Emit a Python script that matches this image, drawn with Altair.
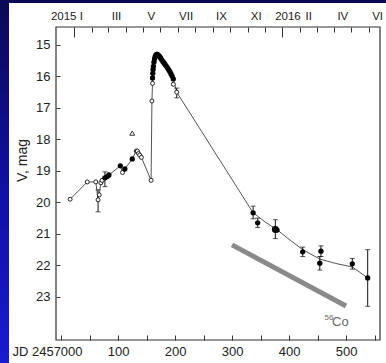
import altair as alt
import pandas as pd

# ---------------- data (x = JD - 2457000, y = V magnitude) ----------------
open_x = [16, 46, 61, 65, 67, 70, 72, 108, 132, 134, 136, 138, 141, 158, 159.5, 160.5, 197, 203]
open_y = [19.9, 19.35, 19.35, 19.92, 19.76, 19.38, 19.3, 19.05, 18.37, 18.37, 18.45, 18.5, 18.57,
          19.3, 16.78, 16.22, 16.25, 16.5]

filled_x = [77, 81, 84, 104, 112, 125,
            160.5, 161, 161.5, 162, 163, 164, 165, 166, 167.5, 169, 170.5, 172, 173.5, 175,
            177, 179, 181, 183, 185, 187, 189, 191, 193, 195, 197,
            337, 345, 379, 424, 454, 456, 511, 538]
filled_y = [19.22, 19.18, 19.13, 18.84, 18.94, 18.62,
            16.05, 15.9, 15.78, 15.68, 15.55, 15.45, 15.38, 15.33, 15.3, 15.3, 15.32, 15.35, 15.38, 15.42,
            15.48, 15.53, 15.58, 15.63, 15.68, 15.73, 15.79, 15.85, 15.92, 15.99, 16.08,
            20.33, 20.65, 20.88, 21.57, 21.93, 21.55, 21.95, 22.4]

big_x = [376]
big_y = [20.86]

tri_x = [125]
tri_y = [17.8]

err_x = [65, 77, 203, 337, 345, 376, 424, 454, 456, 511, 538]
err_lo = [19.6, 19.03, 16.37, 20.12, 20.5, 20.55, 21.42, 21.72, 21.38, 21.78, 21.5]
err_hi = [20.3, 19.5, 16.68, 20.52, 20.8, 21.15, 21.72, 22.15, 21.72, 22.12, 23.3]

line_x = [16, 46, 61, 65, 67, 70, 72, 77, 81, 84, 104, 108, 112, 125, 132, 136, 141, 158, 159.5,
          160.5, 163, 166, 168, 170, 175, 180, 185, 190, 197, 203, 337, 358, 379, 402, 424, 454,
          482, 511, 538]
line_y = [19.9, 19.35, 19.35, 19.92, 19.76, 19.38, 19.3, 19.22, 19.18, 19.13, 18.84, 19.05, 18.94,
          18.62, 18.37, 18.45, 18.57, 19.3, 16.78, 16.22, 15.55, 15.33, 15.3, 15.3, 15.45, 15.58,
          15.72, 15.83, 16.08, 16.5, 20.33, 20.62, 20.87, 21.2, 21.5, 21.8, 21.94, 22.05, 22.4]

co_x = [300, 500]
co_y = [21.35, 23.29]
co_sup_pos = [470, 23.67]
co_txt_pos = [490, 23.79]

# axes
bottom_ticks = [0, 50, 100, 150, 200, 250, 300, 350, 400, 450, 500, 550]
bottom_labeled = [0, 100, 200, 300, 400, 500]
bottom_texts = ["JD 2457000", "100", "200", "300", "400", "500"]
y_ticks = [15, 16, 17, 18, 19, 20, 21, 22, 23]
month_starts = [23.5, 54.5, 82.5, 113.5, 143.5, 174.5, 204.5, 235.5, 266.5, 296.5, 327.5, 357.5,
                388.5, 419.5, 448.5, 479.5, 509.5, 540.5]
year_starts = [23.5, 388.5]
top_label_pos = [37.5, 96.5, 157.5, 218.5, 280.5, 341.5, 402.5, 433.5, 493.5, 554.5]
top_label_txt = ["2015 I", "III", "V", "VII", "IX", "XI", "2016", "II", "IV", "VI"]

# ---------------- chart ----------------
W, H = 324, 313
PAD = {"left": 56, "top": 27, "right": 6, "bottom": 23}
xs = alt.Scale(domain=[-8.8, 559.6], nice=False, zero=False)
ys = alt.Scale(domain=[14.43, 24.37], nice=False, zero=False, reverse=True)
FONT = "Liberation Sans"


def X(f, axis=None):
    return alt.X(f, type="quantitative", scale=xs, axis=axis)


def Y(f, axis=None):
    return alt.Y(f, type="quantitative", scale=ys, axis=axis)


one = pd.DataFrame({"k": [0]})
open_df = pd.DataFrame({"x": open_x, "y": open_y})
filled_df = pd.DataFrame({"x": filled_x, "y": filled_y})
big_df = pd.DataFrame({"x": big_x, "y": big_y})
tri_df = pd.DataFrame({"x": tri_x, "y": tri_y})
err_df = pd.DataFrame({"x": err_x, "lo": err_lo, "hi": err_hi})
cap_df = pd.DataFrame({"x": err_x + err_x, "y": err_lo + err_hi})
line_df = pd.DataFrame({"x": line_x, "y": line_y})
co_df = pd.DataFrame({"x": co_x, "y": co_y})
sup_df = pd.DataFrame({"x": [co_sup_pos[0]], "y": [co_sup_pos[1]], "t": ["56"]})
cotxt_df = pd.DataFrame({"x": [co_txt_pos[0]], "y": [co_txt_pos[1]], "t": ["Co"]})

grad = alt.Gradient(
    gradient="linear",
    stops=[alt.GradientStop(color="#0a0a55", offset=0),
           alt.GradientStop(color="#1010a0", offset=0.5),
           alt.GradientStop(color="#1a1ad0", offset=1)],
    x1=0, x2=0, y1=0, y2=1,
)

bg = alt.Chart(one).mark_rect(color=grad).encode(
    x=alt.value(-PAD["left"]), x2=alt.value(W + PAD["right"]),
    y=alt.value(-PAD["top"]), y2=alt.value(H + PAD["bottom"]))
white = alt.Chart(one).mark_rect(color="white").encode(
    x=alt.value(-47), x2=alt.value(W + PAD["right"]),
    y=alt.value(-24), y2=alt.value(H + PAD["bottom"]))
frame = alt.Chart(one).mark_rect(fillOpacity=0, stroke="#333", strokeWidth=1.2).encode(
    x=alt.value(0), x2=alt.value(W), y=alt.value(0), y2=alt.value(H))

co_line = alt.Chart(co_df).mark_line(color="#8a8a8a", strokeWidth=5).encode(x=X("x"), y=Y("y"))
curve = alt.Chart(line_df).mark_line(color="#555", strokeWidth=1).encode(x=X("x"), y=Y("y"))
rules = alt.Chart(err_df).mark_rule(color="#111", strokeWidth=1).encode(
    x=X("x"), y=Y("lo"), y2="hi")
caps = alt.Chart(cap_df).mark_tick(orient="horizontal", size=5, thickness=1, color="#111").encode(
    x=X("x"), y=Y("y"))
opens = alt.Chart(open_df).mark_point(shape="circle", filled=False, fill="white", color="#222",
                                      size=16, strokeWidth=1, opacity=1).encode(x=X("x"), y=Y("y"))
tris = alt.Chart(tri_df).mark_point(shape="triangle-up", filled=False, fill="white", color="#333",
                                    size=24, strokeWidth=1, opacity=1).encode(x=X("x"), y=Y("y"))
fills = alt.Chart(filled_df).mark_circle(color="#000", size=28, opacity=1).encode(x=X("x"), y=Y("y"))
bigs = alt.Chart(big_df).mark_circle(color="#000", size=48, opacity=1).encode(x=X("x"), y=Y("y"))
sup = alt.Chart(sup_df).mark_text(font=FONT, fontSize=8, color="#666", baseline="middle").encode(
    x=X("x"), y=Y("y"), text="t")
cotxt = alt.Chart(cotxt_df).mark_text(font=FONT, fontSize=13, color="#666", baseline="middle").encode(
    x=X("x"), y=Y("y"), text="t")

bottom_expr = ("[" + ",".join("'" + t + "'" for t in bottom_texts) + "][indexof(["
               + ",".join(str(v) for v in bottom_labeled) + "], datum.value)] || ''")
top_expr = ("[" + ",".join("'" + t + "'" for t in top_label_txt) + "][indexof(["
            + ",".join(str(v) for v in top_label_pos) + "], datum.value)]")

host = alt.Chart(filled_df).mark_point(opacity=0)

ax_bottom = host.encode(
    x=X("x", alt.Axis(orient="bottom", values=bottom_ticks, labelExpr=bottom_expr, tickSize=5,
                      offset=-5, domain=False, grid=False, labelPadding=5, labelFontSize=13,
                      labelFlush=False, labelOverlap=False, title=None, zindex=2,
                      labelOffset={"condition": {"test": "datum.value == 0", "value": -14}, "value": 0})),
    y=Y("y"))
ax_left = host.encode(
    x=X("x"),
    y=Y("y", alt.Axis(orient="left", values=y_ticks, tickSize=4, offset=-4, domain=False,
                      grid=False, labelPadding=6, labelFontSize=13, labelFlush=False,
                      labelOverlap=False, title="V, mag", titleFont=FONT, titleFontSize=14,
                      titleFontWeight="normal", titleColor="#222", titleX=-38, titleY=133,
                      titleBaseline="middle", titleAngle=270, zindex=2)))
ax_top_minor = host.encode(
    x=X("x", alt.Axis(orient="top", values=month_starts, tickSize=5, offset=-5, labels=False,
                      domain=False, grid=False, title=None, zindex=2)),
    y=Y("y"))
ax_top_major = host.encode(
    x=X("x", alt.Axis(orient="top", values=year_starts, tickSize=10, offset=-10, labels=False,
                      domain=False, grid=False, title=None, zindex=2)),
    y=Y("y"))
ax_top_labels = host.encode(
    x=X("x", alt.Axis(orient="top", values=top_label_pos, labelExpr=top_expr, ticks=False,
                      domain=False, grid=False, labelPadding=6, labelFontSize=11.5,
                      labelFlush=False, labelOverlap=False, title=None, zindex=2,
                      labelOffset={"condition": {"test": "datum.value == 402.5", "value": -3},
                                   "value": 0},
                      labelAlign={"condition": {"test": "datum.value == 37.5", "value": "right"},
                                  "value": "center"})),
    y=Y("y"))

chart = alt.layer(
    bg, white, co_line, curve, rules, caps, opens, tris, fills, bigs, sup, cotxt, frame,
    ax_bottom, ax_left, ax_top_minor, ax_top_major, ax_top_labels,
).resolve_axis(x="independent", y="independent").properties(
    width=W, height=H, padding=PAD, autosize=alt.AutoSizeParams(type="none"),
    background="#1010a0",
).configure_view(stroke="transparent").configure_axis(
    labelFont=FONT, labelColor="#222", tickColor="#333", tickWidth=1,
)

chart.save("out.html", embed_options={"renderer": "svg", "actions": False})
